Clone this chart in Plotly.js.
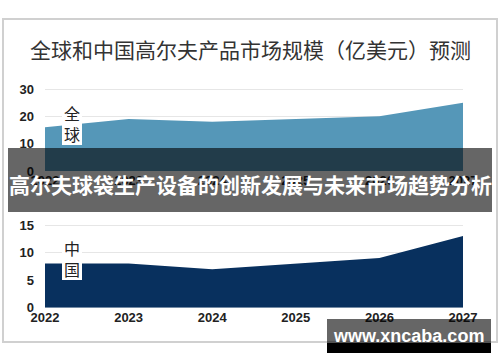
<!DOCTYPE html>
<html>
<head>
<meta charset="utf-8">
<script src="https://cdn.plot.ly/plotly-3.0.1.min.js"></script>
<style>html,body{margin:0;padding:0;background:#fff;}#chart{width:500px;height:362px;}</style>
</head>
<body>
<div id="chart"></div>
<script>
const years = [2022, 2023, 2024, 2025, 2026, 2027];
const globalValues = [16, 19, 18, 19, 20, 25];
const chinaValues = [8, 8, 7, 8, 9, 13];
const globalTicks = [0, 10, 20, 30];
const chinaTicks = [0, 5, 10, 15];
const titleText = '全球和中国高尔夫产品市场规模（亿美元）预测';
const bannerText = '高尔夫球袋生产设备的创新发展与未来市场趋势分析';
const watermarkText = 'www.xncaba.com';
const globalLabel = '全<br>球';
const chinaLabel = '中<br>国';

const W = 500, H = 362;
const X = p => p / W;
const Y = p => 1 - p / H;
const cjk = '"Noto Sans CJK SC", "Noto Sans", sans-serif';
const tickFont = {family: '"Liberation Sans", Arial, sans-serif', size: 13, color: '#222', weight: 'bold'};

const traces = [
  {x: years, y: globalValues, type: 'scatter', mode: 'lines', fill: 'tozeroy',
   line: {width: 0, color: '#5597b8'}, fillcolor: '#5597b8', xaxis: 'x', yaxis: 'y', hoverinfo: 'skip'},
  {x: years, y: chinaValues, type: 'scatter', mode: 'lines', fill: 'tozeroy',
   line: {width: 0, color: '#08305e'}, fillcolor: '#08305e', xaxis: 'x2', yaxis: 'y2', hoverinfo: 'skip'}
];

const xCommon = {range: [2022, 2027], tickvals: years, showgrid: false, zeroline: false,
  showline: false, ticks: '', tickfont: tickFont, fixedrange: true};
const yCommon = {showgrid: true, gridcolor: '#e6e6e6', gridwidth: 1, zeroline: false,
  showline: false, ticks: '', tickfont: tickFont, ticklabelstandoff: 10, fixedrange: true};

const layout = {
  width: W, height: H,
  margin: {l: 0, r: 0, t: 0, b: 0},
  paper_bgcolor: '#fff', plot_bgcolor: 'rgba(0,0,0,0)',
  showlegend: false,
  xaxis: Object.assign({}, xCommon, {domain: [X(45), X(463)], anchor: 'y'}),
  xaxis2: Object.assign({}, xCommon, {domain: [X(45), X(463)], anchor: 'y2'}),
  yaxis: Object.assign({}, yCommon, {domain: [Y(171), Y(86.3)], range: [0, 31], tickvals: globalTicks, anchor: 'x'}),
  yaxis2: Object.assign({}, yCommon, {domain: [Y(307.7), Y(222.3)], range: [0, 15.5], tickvals: chinaTicks, anchor: 'x2'}),
  shapes: [
    {type: 'rect', xref: 'paper', yref: 'paper', x0: X(3), x1: X(497), y0: Y(342), y1: Y(19),
     line: {color: '#d0d0d0', width: 2}, fillcolor: 'rgba(0,0,0,0)', layer: 'below'},
    {type: 'rect', xref: 'paper', yref: 'paper', x0: X(62), x1: X(82), y0: Y(145), y1: Y(103),
     line: {width: 0}, fillcolor: '#fff', layer: 'above'},
    {type: 'rect', xref: 'paper', yref: 'paper', x0: X(62), x1: X(82), y0: Y(280), y1: Y(242),
     line: {width: 0}, fillcolor: '#fff', layer: 'above'},
    {type: 'rect', xref: 'paper', yref: 'paper', x0: X(8), x1: X(492), y0: Y(212), y1: Y(148),
     line: {width: 0}, fillcolor: 'rgba(0,0,0,0.6)', layer: 'above'},
    {type: 'rect', xref: 'paper', yref: 'paper', x0: X(327), x1: X(491), y0: Y(343), y1: Y(319),
     line: {width: 0}, fillcolor: 'rgba(0,0,0,0.6)', layer: 'above'},
    {type: 'rect', xref: 'paper', yref: 'paper', x0: X(327), x1: X(491), y0: Y(353), y1: Y(343),
     line: {width: 0}, fillcolor: '#000', layer: 'above'}
  ],
  annotations: [
    {text: titleText, xref: 'paper', yref: 'paper', x: X(250), y: Y(49), xanchor: 'center', yanchor: 'middle',
     showarrow: false, font: {family: cjk, size: 21, color: '#333'}},
    {text: globalLabel, xref: 'paper', yref: 'paper', x: X(72), y: Y(123), xanchor: 'center', yanchor: 'middle',
     showarrow: false, font: {family: cjk, size: 16, color: '#222'}},
    {text: chinaLabel, xref: 'paper', yref: 'paper', x: X(72), y: Y(258), xanchor: 'center', yanchor: 'middle',
     showarrow: false, font: {family: cjk, size: 16, color: '#222'}},
    {text: bannerText, xref: 'paper', yref: 'paper', x: X(250), y: Y(184), xanchor: 'center', yanchor: 'middle',
     showarrow: false, font: {family: cjk, size: 21, color: '#fff', weight: 'bold'}},
    {text: watermarkText, xref: 'paper', yref: 'paper', x: X(408), y: Y(336), xanchor: 'center', yanchor: 'middle',
     showarrow: false, font: {family: '"Liberation Sans", Arial, sans-serif', size: 18, color: '#fff', weight: 'bold'}}
  ]
};

Plotly.newPlot('chart', traces, layout, {displayModeBar: false, staticPlot: true});
</script>
</body>
</html>
